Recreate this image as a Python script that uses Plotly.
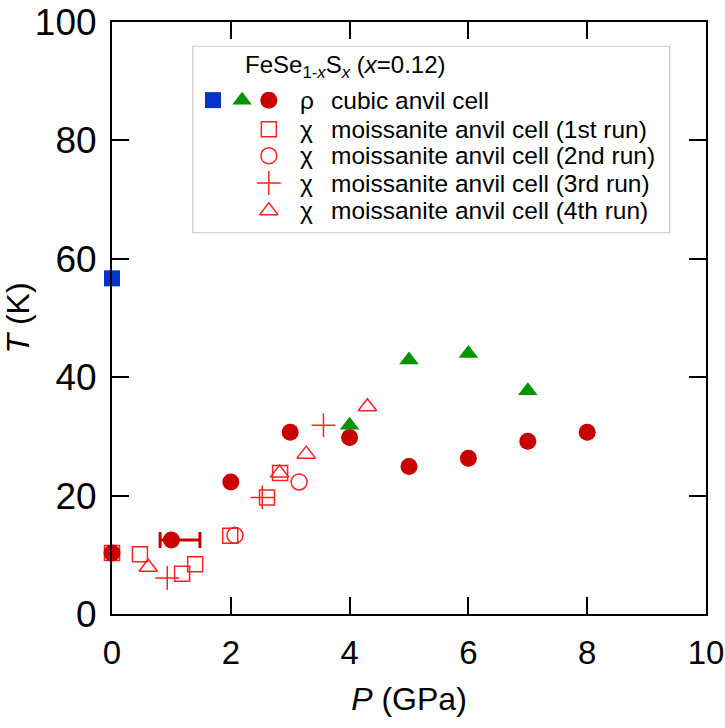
import plotly.graph_objects as go

# ---------------- data ----------------
# rho, cubic anvil cell
blue_P = [0.0]
blue_T = [56.7]
green_P = [4.0, 5.0, 6.0, 7.0]
green_T = [31.9, 42.9, 44.0, 37.7]
red_P = [0.0, 1.0, 2.0, 3.0, 4.0, 5.0, 6.0, 7.0, 8.0]
red_T = [10.3, 12.5, 22.3, 30.7, 29.8, 24.9, 26.3, 29.2, 30.7]
red_err_plus = [0, 0.48, 0, 0, 0, 0, 0, 0, 0]
red_err_minus = [0, 0.19, 0, 0, 0, 0, 0, 0, 0]
# chi, moissanite anvil cell
run1_P = [0.0, 0.47, 1.18, 1.40, 1.99, 2.61, 2.83]
run1_T = [10.3, 10.1, 6.8, 8.4, 13.2, 19.7, 23.8]
run2_P = [2.07, 3.15]
run2_T = [13.3, 22.3]
run3_P = [0.93, 2.53, 3.56]
run3_T = [6.1, 19.7, 31.9]
run4_P = [0.61, 2.82, 3.27, 4.30]
run4_T = [7.9, 23.8, 27.0, 35.0]

legend_labels = [
    "cubic anvil cell",
    "moissanite anvil cell (1st run)",
    "moissanite anvil cell (2nd run)",
    "moissanite anvil cell (3rd run)",
    "moissanite anvil cell (4th run)",
]
legend_syms = ["ρ", "χ", "χ", "χ", "χ"]
legend_title = "FeSe<sub>1-<i>x</i></sub>S<sub><i>x</i></sub> (<i>x</i>=0.12)"

x_ticks = [0, 2, 4, 6, 8, 10]
y_ticks = [0, 20, 40, 60, 80, 100]

# ---------------- styles ----------------
C_BLUE = "#0433C8"
C_GREEN = "#009400"
C_DRED = "#C80000"
C_RED = "#FF2020"
FONT = "Liberation Sans, Arial, sans-serif"

fig = go.Figure()

def open_trace(P, T, sym, size):
    fig.add_trace(go.Scatter(
        x=P, y=T, mode="markers", showlegend=False, cliponaxis=False,
        marker=dict(symbol=sym, size=size, color=C_RED,
                    line=dict(color=C_RED, width=1.5))))

open_trace(run1_P, run1_T, "square-open", 15)
open_trace(run2_P, run2_T, "circle-open", 16)
open_trace(run3_P, run3_T, "cross-thin-open", 17)
open_trace(run4_P, run4_T, "triangle-up-open", 16)

fig.add_trace(go.Scatter(
    x=red_P, y=red_T, mode="markers", showlegend=False, cliponaxis=False,
    marker=dict(symbol="circle", size=17, color=C_DRED),
    error_x=dict(type="data", symmetric=False, array=red_err_plus,
                 arrayminus=red_err_minus, color=C_DRED, thickness=3, width=8)))
fig.add_trace(go.Scatter(
    x=green_P, y=green_T, mode="markers", showlegend=False, cliponaxis=False,
    marker=dict(symbol="triangle-up", size=17, color=C_GREEN)))
fig.add_trace(go.Scatter(
    x=blue_P, y=blue_T, mode="markers", showlegend=False, cliponaxis=False,
    marker=dict(symbol="square", size=16, color=C_BLUE)))

# ---------------- custom legend ----------------
row_y = [0.868, 0.819, 0.774, 0.728, 0.681]
mk_x = 0.264
LFS = 24.5
fig.add_shape(type="rect", xref="paper", yref="paper", x0=0.136, x1=0.939,
              y0=0.644, y1=0.959, line=dict(color="#c8c8c8", width=1.2),
              fillcolor="white", layer="below")
fig.add_annotation(xref="paper", yref="paper", x=0.2205, y=0.924, text=legend_title,
                   showarrow=False, xanchor="left", yanchor="middle",
                   font=dict(family=FONT, size=24, color="black"))
for s, lab, yy in zip(legend_syms, legend_labels, row_y):
    fig.add_annotation(xref="paper", yref="paper", x=0.328, y=yy, text=s,
                       showarrow=False, xanchor="center", yanchor="middle",
                       font=dict(family=FONT, size=LFS, color="black"))
    fig.add_annotation(xref="paper", yref="paper", x=0.366, y=yy, text=lab,
                       showarrow=False, xanchor="left", yanchor="middle",
                       font=dict(family=FONT, size=LFS, color="black"))

leg = dict(xaxis="x2", yaxis="y2", mode="markers", showlegend=False, hoverinfo="skip",
           cliponaxis=False)
fig.add_trace(go.Scatter(x=[0.170], y=[row_y[0]], marker=dict(symbol="square", size=16, color=C_BLUE), **leg))
fig.add_trace(go.Scatter(x=[0.219], y=[row_y[0]], marker=dict(symbol="triangle-up", size=17, color=C_GREEN), **leg))
fig.add_trace(go.Scatter(x=[mk_x], y=[row_y[0]], marker=dict(symbol="circle", size=17, color=C_DRED), **leg))
fig.add_trace(go.Scatter(x=[mk_x], y=[row_y[1]], marker=dict(symbol="square-open", size=15, color=C_RED, line=dict(width=1.5)), **leg))
fig.add_trace(go.Scatter(x=[mk_x], y=[row_y[2]], marker=dict(symbol="circle-open", size=16, color=C_RED, line=dict(width=1.5)), **leg))
fig.add_trace(go.Scatter(x=[mk_x], y=[row_y[3]], marker=dict(symbol="cross-thin-open", size=17, color=C_RED, line=dict(width=1.5)), **leg))
fig.add_trace(go.Scatter(x=[mk_x], y=[row_y[4]], marker=dict(symbol="triangle-up-open", size=16, color=C_RED, line=dict(width=1.5)), **leg))

axis_common = dict(showline=True, linecolor="black", linewidth=2, mirror="ticks",
                   ticks="inside", ticklen=17, tickwidth=2, tickcolor="black",
                   showgrid=False, zeroline=False, automargin=False,
                   ticklabeloverflow="allow")

fig.update_layout(
    width=725, height=728,
    margin=dict(l=112, r=19, t=22, b=114),
    paper_bgcolor="white", plot_bgcolor="white",
    xaxis=dict(range=[0, 10], tickvals=x_ticks, ticktext=[str(v) for v in x_ticks],
               tickfont=dict(family=FONT, size=33, color="black"),
               ticklabelstandoff=8,
               title=dict(text="<i>P</i> (GPa)", font=dict(family=FONT, size=32, color="black"), standoff=18),
               **axis_common),
    yaxis=dict(range=[0, 100], tickvals=y_ticks, ticktext=[str(v) for v in y_ticks],
               tickfont=dict(family=FONT, size=37, color="black"),
               title=dict(text="<i>T</i> (K)", font=dict(family=FONT, size=32, color="black"), standoff=14),
               ticklabelstandoff=6,
               **axis_common),
    xaxis2=dict(domain=[0, 1], range=[0, 1], overlaying="x", visible=False, fixedrange=True),
    yaxis2=dict(domain=[0, 1], range=[0, 1], overlaying="y", visible=False, fixedrange=True, anchor="x2"),
    showlegend=False,
)

fig.write_html("out.html")
